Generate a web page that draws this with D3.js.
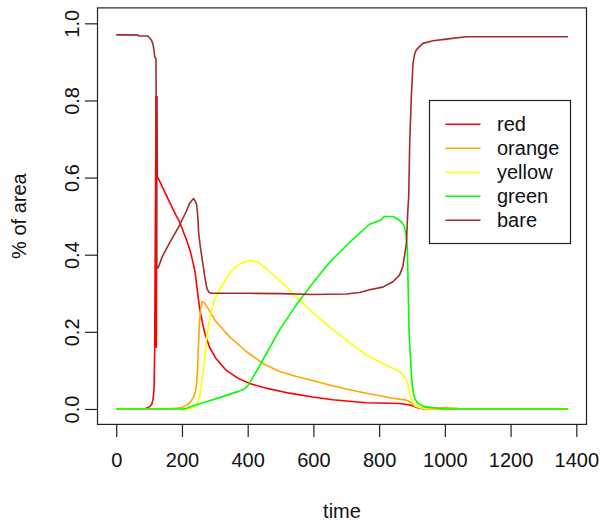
<!DOCTYPE html>
<html>
<head>
<meta charset="utf-8">
<script src="https://cdn.jsdelivr.net/npm/d3@7"></script>
<style>
  html, body { margin: 0; padding: 0; background: #fff; }
  svg { display: block; font-family: "Liberation Sans", Arial, sans-serif; }
</style>
</head>
<body>
<div id="wrapper"></div>
<script>
/* DATA: [time, share of area] */
const seriesNames = ['red', 'orange', 'yellow', 'green', 'bare'];

const redData = [
  [0, 0], [85, 0], [95, 0.003], [102, 0.006], [108, 0.012], [112, 0.025],
  [115, 0.05], [117, 0.153], [121, 0.81], [122, 0.16], [124, 0.81],
  [125, 0.6], [128, 0.598], [152, 0.555], [162, 0.537], [183, 0.5],
  [193, 0.485], [213, 0.44], [225, 0.41], [235, 0.375], [240, 0.355],
  [245, 0.32], [250, 0.285], [255, 0.255], [262, 0.225], [270, 0.195],
  [284, 0.16], [304, 0.13], [335, 0.1], [370, 0.08], [406, 0.066],
  [456, 0.054], [527, 0.041], [598, 0.031], [659, 0.024], [761, 0.016],
  [862, 0.014], [890, 0.011], [903, 0.008], [915, 0.004], [930, 0.001],
  [950, 0], [1375, 0]
];

const orangeData = [
  [0, 0], [150, 0], [180, 0.002], [200, 0.004], [215, 0.01], [225, 0.017],
  [235, 0.03], [241, 0.045], [245, 0.07], [248, 0.11], [250, 0.16],
  [253, 0.22], [257, 0.26], [262, 0.278], [266, 0.277], [272, 0.27],
  [279, 0.261], [304, 0.226], [345, 0.187], [396, 0.149], [446, 0.118],
  [497, 0.097], [548, 0.084], [600, 0.073], [649, 0.062], [710, 0.05],
  [761, 0.041], [842, 0.028], [883, 0.023], [895, 0.018], [903, 0.012],
  [910, 0.007], [925, 0.004], [1000, 0.003], [1035, 0.002], [1050, 0],
  [1375, 0]
];

const yellowData = [
  [0, 0], [220, 0], [235, 0.004], [245, 0.01], [252, 0.025], [257, 0.05],
  [262, 0.085], [266, 0.11], [269, 0.13], [276, 0.19], [284, 0.231],
  [292, 0.262], [299, 0.283], [320, 0.318], [345, 0.352], [370, 0.373],
  [395, 0.383], [411, 0.385], [436, 0.378], [472, 0.352], [507, 0.326],
  [548, 0.29], [598, 0.25], [649, 0.213], [710, 0.172], [761, 0.14],
  [811, 0.118], [862, 0.097], [875, 0.087], [883, 0.075], [888, 0.06],
  [893, 0.041], [898, 0.025], [903, 0.015], [910, 0.008], [925, 0.003],
  [945, 0], [1375, 0]
];

const greenData = [
  [0, 0], [200, 0], [215, 0.002], [233, 0.008], [274, 0.019], [324, 0.032],
  [370, 0.045], [390, 0.052], [400, 0.06], [411, 0.075], [425, 0.095],
  [446, 0.127], [497, 0.205], [548, 0.27], [598, 0.326], [649, 0.38],
  [670, 0.398], [720, 0.44], [771, 0.479], [806, 0.49], [816, 0.499],
  [842, 0.499], [857, 0.492], [867, 0.486], [877, 0.473], [883, 0.447],
  [886, 0.412], [891, 0.2], [898, 0.093], [901, 0.06], [905, 0.04],
  [908, 0.028], [915, 0.018], [923, 0.012], [940, 0.006], [974, 0.002],
  [1000, 0], [1375, 0]
];

const bareData = [
  [0, 0.97], [66, 0.97], [68, 0.967], [96, 0.967], [102, 0.962],
  [108, 0.955], [112, 0.945], [115, 0.93], [117, 0.913], [121, 0.908],
  [123, 0.365], [128, 0.367], [140, 0.395], [162, 0.43], [193, 0.477],
  [213, 0.512], [223, 0.533], [235, 0.546], [240, 0.54], [245, 0.529],
  [248, 0.5], [251, 0.455], [256, 0.42], [262, 0.386], [270, 0.34],
  [276, 0.312], [282, 0.303], [289, 0.3], [400, 0.3], [500, 0.299],
  [600, 0.297], [700, 0.298], [740, 0.302], [771, 0.309], [811, 0.316],
  [842, 0.33], [862, 0.347], [872, 0.369], [877, 0.395], [883, 0.43],
  [886, 0.49], [888, 0.524], [890, 0.55], [893, 0.689], [898, 0.81],
  [903, 0.896], [908, 0.92], [913, 0.931], [933, 0.948], [964, 0.955],
  [1004, 0.959], [1065, 0.965], [1375, 0.965]
];

const xTicks = [0, 200, 400, 600, 800, 1000, 1200, 1400];
const yTicks = [0, 0.2, 0.4, 0.6, 0.8, 1.0];
const xLabel = 'time';
const yLabel = '% of area';

function drawChart() {
  const seriesData = [redData, orangeData, yellowData, greenData, bareData];
  const colors = {
    red: '#ff0000',
    orange: '#ffa500',
    yellow: '#ffff00',
    green: '#00ff00',
    bare: '#a52a2a',
  };

  /* DIMENSIONS */
  const dimensions = {
    width: 603,
    height: 527,
    box: { left: 97.5, right: 586.5, top: 7.9, bottom: 424.4 },
  };

  /* SCALES (R style: 4% padding around the data range) */
  const xScale = d3
    .scaleLinear()
    .domain([-57, 1431])
    .range([dimensions.box.left, dimensions.box.right]);

  const yScale = d3
    .scaleLinear()
    .domain([-0.04, 1.04])
    .range([dimensions.box.bottom, dimensions.box.top]);

  const wrapper = d3
    .select('#wrapper')
    .append('svg')
    .attr('width', dimensions.width)
    .attr('height', dimensions.height);

  wrapper
    .append('rect')
    .attr('width', dimensions.width)
    .attr('height', dimensions.height)
    .attr('fill', '#fff');

  /* DRAW DATA */
  const lineGenerator = d3
    .line()
    .x(d => xScale(d[0]))
    .y(d => yScale(d[1]));

  wrapper
    .append('g')
    .selectAll('path')
    .data(seriesNames)
    .join('path')
    .attr('d', (d, i) => lineGenerator(seriesData[i]))
    .attr('fill', 'none')
    .attr('stroke', d => colors[d])
    .attr('stroke-width', 1.6)
    .attr('stroke-linejoin', 'round');

  /* PERIPHERALS */
  wrapper
    .append('rect')
    .attr('x', dimensions.box.left)
    .attr('y', dimensions.box.top)
    .attr('width', dimensions.box.right - dimensions.box.left)
    .attr('height', dimensions.box.bottom - dimensions.box.top)
    .attr('fill', 'none')
    .attr('stroke', '#222')
    .attr('stroke-width', 1.2);

  const xAxis = wrapper
    .append('g')
    .attr('transform', `translate(0, ${dimensions.box.bottom})`)
    .call(
      d3.axisBottom(xScale).tickValues(xTicks).tickFormat(d3.format('d')).tickSize(12.5).tickSizeOuter(0)
    );

  xAxis.select('.domain').remove();
  xAxis.selectAll('line').attr('stroke', '#222').attr('stroke-width', 1.2);
  xAxis
    .selectAll('text')
    .attr('y', 43)
    .attr('dy', 0)
    .attr('fill', '#111')
    .style('font-size', '20px');

  const yAxis = wrapper
    .append('g')
    .attr('transform', `translate(${dimensions.box.left}, 0)`)
    .call(
      d3.axisLeft(yScale).tickValues(yTicks).tickFormat(d3.format('.1f')).tickSize(12.5).tickSizeOuter(0)
    );

  yAxis.select('.domain').remove();
  yAxis.selectAll('line').attr('stroke', '#222').attr('stroke-width', 1.2);
  yAxis
    .selectAll('text')
    .attr('transform', 'rotate(-90)')
    .attr('x', 0)
    .attr('y', -18.5)
    .attr('dy', 0)
    .attr('text-anchor', 'middle')
    .attr('fill', '#111')
    .style('font-size', '20px');

  wrapper
    .append('text')
    .text(xLabel)
    .attr('x', (dimensions.box.left + dimensions.box.right) / 2)
    .attr('y', 518)
    .attr('text-anchor', 'middle')
    .attr('fill', '#111')
    .style('font-size', '20px');

  wrapper
    .append('text')
    .text(yLabel)
    .attr('transform', `translate(26, ${(dimensions.box.top + dimensions.box.bottom) / 2}) rotate(-90)`)
    .attr('text-anchor', 'middle')
    .attr('fill', '#111')
    .style('font-size', '20px');

  /* LEGEND */
  const legend = wrapper.append('g').attr('transform', 'translate(429.5, 100.5)');

  legend
    .append('rect')
    .attr('width', 141)
    .attr('height', 143)
    .attr('fill', '#fff')
    .attr('stroke', '#222')
    .attr('stroke-width', 1.2);

  const legendItems = legend
    .selectAll('g')
    .data(seriesNames)
    .join('g')
    .attr('transform', (d, i) => `translate(0, ${23.8 + i * 24})`);

  legendItems
    .append('line')
    .attr('x1', 16)
    .attr('x2', 51)
    .attr('stroke', d => colors[d])
    .attr('stroke-width', 1.6);

  legendItems
    .append('text')
    .text(d => d)
    .attr('x', 67.5)
    .attr('y', 7)
    .attr('fill', '#111')
    .style('font-size', '20px');
}

drawChart();
</script>
</body>
</html>
